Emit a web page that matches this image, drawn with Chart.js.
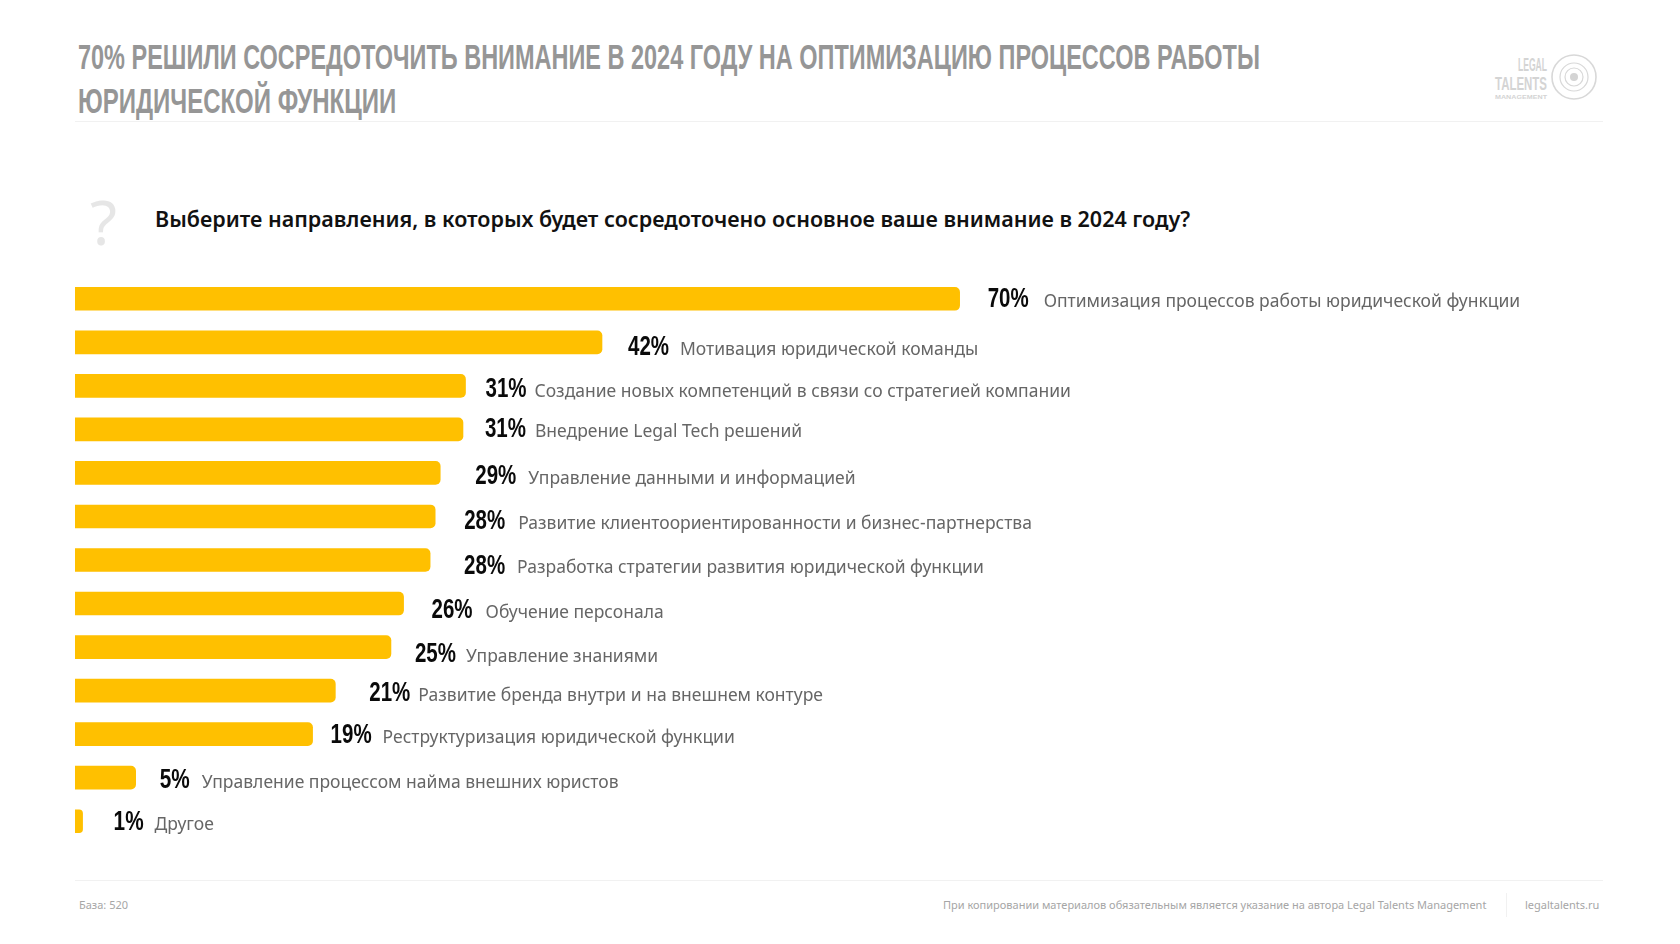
<!DOCTYPE html>
<html lang="ru">
<head>
<meta charset="utf-8">
<title>Направления 2024</title>
<script src="https://cdn.jsdelivr.net/npm/chart.js@4"></script>
<style>
    html, body { margin: 0; padding: 0; background: #fff; }
    body { position: relative; width: 1680px; height: 944px; overflow: hidden; font-family: "Noto Sans", sans-serif; }
    .abs { position: absolute; white-space: nowrap; }
    .title { left: 78px; font: bold 35px/44px "Liberation Sans", sans-serif; color: #969696; transform-origin: left center; }
    .rule { left: 75px; width: 1528px; height: 1px; background: #f1f1f1; }
    #question { left: 155px; top: 202px; font: 600 21.5px/34px "Noto Sans", sans-serif; color: #111; }
    #mark { left: 90px; top: 186px; font: 400 62px/70px "Noto Sans", sans-serif; color: #e6e6e6; }
    .foot { top: 897px; font: 400 11px/16px "Noto Sans", sans-serif; color: #a6a6a6; }
    #chartBox { position: absolute; left: 75px; top: 277px; width: 1605px; height: 566px; }
    #logo { position: absolute; left: 1490px; top: 50px; }
</style>
</head>
<body>
<div class="abs title" id="t1" data-width="1182" style="top:35px">70% РЕШИЛИ СОСРЕДОТОЧИТЬ ВНИМАНИЕ В 2024 ГОДУ НА ОПТИМИЗАЦИЮ ПРОЦЕССОВ РАБОТЫ</div>
<div class="abs title" id="t2" data-width="318" style="top:79px">ЮРИДИЧЕСКОЙ ФУНКЦИИ</div>
<div class="abs rule" style="top:121px"></div>
<svg id="logo" width="112" height="54" viewBox="0 0 112 54">
    <g font-family="Liberation Sans" font-weight="bold" fill="#d4d4d4">
        <text x="28" y="21" font-size="18" textLength="29" lengthAdjust="spacingAndGlyphs">LEGAL</text>
        <text x="5" y="40" font-size="18" textLength="52" lengthAdjust="spacingAndGlyphs">TALENTS</text>
        <text x="5" y="49" font-size="6" textLength="52" lengthAdjust="spacingAndGlyphs">MANAGEMENT</text>
    </g>
    <g fill="none" stroke="#d8d8d8">
        <circle cx="84" cy="27" r="22" stroke-width="1.6"></circle>
        <circle cx="84" cy="27" r="14" stroke-width="1.2"></circle>
        <circle cx="84" cy="27" r="9" stroke-width="1.2"></circle>
    </g>
    <circle cx="84" cy="27" r="4" fill="#d4d4d4"></circle>
</svg>
<div class="abs" id="mark">?</div>
<div class="abs" id="question">Выберите направления, в которых будет сосредоточено основное ваше внимание в 2024 году?</div>
<div id="chartBox"><canvas id="chart"></canvas></div>
<div class="abs rule" style="top:880px"></div>
<div class="abs foot" style="left:79px">База: 520</div>
<div class="abs foot" style="left:943px">При копировании материалов обязательным является указание на автора Legal Talents Management</div>
<div class="abs" style="left:1506px;top:893px;width:1px;height:24px;background:#f1f1f1"></div>
<div class="abs foot" style="left:1525px">legaltalents.ru</div>

<script>
// Data
const categories = [
    'Оптимизация процессов работы юридической функции',
    'Мотивация юридической команды',
    'Создание новых компетенций в связи со стратегией компании',
    'Внедрение Legal Tech решений',
    'Управление данными и информацией',
    'Развитие клиентоориентированности и бизнес-партнерства',
    'Разработка стратегии развития юридической функции',
    'Обучение персонала',
    'Управление знаниями',
    'Развитие бренда внутри и на внешнем контуре',
    'Реструктуризация юридической функции',
    'Управление процессом найма внешних юристов',
    'Другое'
];
const percentLabels = ['70%', '42%', '31%', '31%', '29%', '28%', '28%', '26%', '25%', '21%', '19%', '5%', '1%'];
// bar lengths as drawn in the source, slightly off the rounded labels
const barValues = [70, 41.7, 30.9, 30.7, 28.9, 28.5, 28.1, 26, 25, 20.6, 18.8, 4.8, 0.6];

// The source places each label by hand, so these are per-row nudges in px
const percentGap = [28, 26, 20, 22, 35, 29, 34, 28, 24, 34, 18, 24, 31];
const textGap = [84, 78, 69, 72, 88, 83, 87, 82, 75, 83, 70, 66, 72];
const percentShift = [1, 5, 4, 0, 4, 5, 7, 7, 7, 3, 1, 3, 1];
const textShift = [3, 8, 6, 3, 6, 8, 8, 9, 10, 5, 4, 5, 4];

// The title font in the source is condensed, squeeze ours to the same width
document.querySelectorAll('.title').forEach(el => {
    el.style.transform = 'scaleX(' + (el.dataset.width / el.offsetWidth) + ')';
});

// Percent + caption next to every bar
const barLabels = {
    id: 'barLabels',
    afterDatasetsDraw(chart) {
        const ctx = chart.ctx;
        const bars = chart.getDatasetMeta(0).data;
        ctx.save();
        ctx.textBaseline = 'middle';
        ctx.textAlign = 'left';
        bars.forEach((bar, i) => {
            ctx.font = 'bold 27px "Liberation Sans"';
            ctx.fillStyle = '#0a0a0a';
            ctx.fillText(percentLabels[i], bar.x + percentGap[i], bar.y + percentShift[i], percentLabels[i].length === 3 ? 41 : 30);
            ctx.font = '400 17.5px "Noto Sans"';
            ctx.fillStyle = '#666666';
            ctx.fillText(categories[i], bar.x + textGap[i], bar.y + textShift[i]);
        });
        ctx.restore();
    }
};

new Chart(document.getElementById('chart'), {
    type: 'bar',
    data: {
        labels: categories,
        datasets: [{
            data: barValues,
            backgroundColor: '#ffc000',
            barThickness: 23,
            borderRadius: { topRight: 5, bottomRight: 5 },
            borderSkipped: false
        }]
    },
    options: {
        indexAxis: 'y',
        responsive: true,
        maintainAspectRatio: false,
        animation: false,
        plugins: { legend: { display: false }, tooltip: { enabled: false } },
        scales: {
            x: { display: false, min: 0, max: 127 },
            y: { display: false }
        }
    },
    plugins: [barLabels]
});
</script>
</body>
</html>
